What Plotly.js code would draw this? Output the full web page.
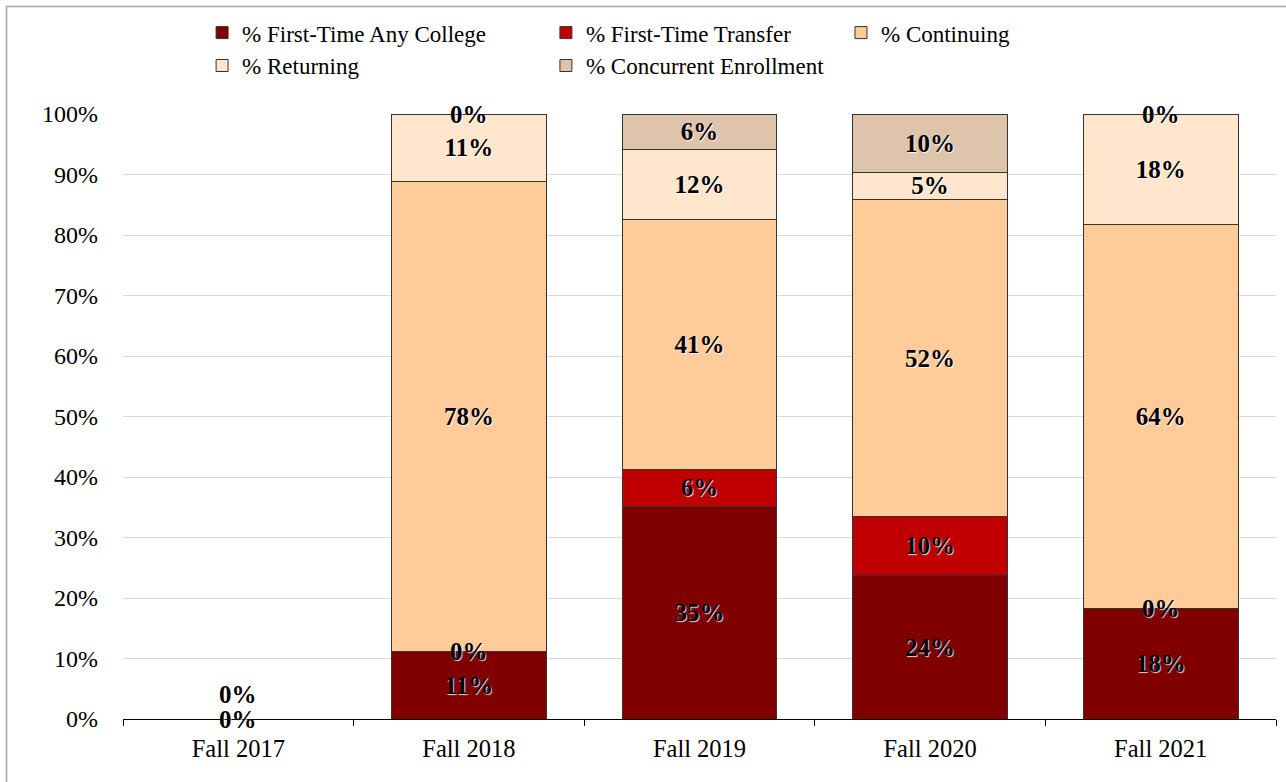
<!DOCTYPE html>
<html>
<head>
<meta charset="utf-8">
<script src="https://cdn.plot.ly/plotly-3.0.1.min.js"></script>
<style>html,body{margin:0;padding:0;background:#fff;}#chart{width:1286px;height:782px;}</style>
</head>
<body>
<div id="chart"></div>
<script>
const categories = ['Fall 2017', 'Fall 2018', 'Fall 2019', 'Fall 2020', 'Fall 2021'];
const seriesNames = ['% First-Time Any College', '% First-Time Transfer', '% Continuing', '% Returning', '% Concurrent Enrollment'];
const firstTimeAny = [0, 0.111, 0.352, 0.238, 0.182];
const firstTimeTransfer = [0, 0, 0.060, 0.096, 0];
const continuing = [0, 0.778, 0.413, 0.524, 0.636];
const returning = [0, 0.111, 0.117, 0.046, 0.182];
const concurrent = [0, 0, 0.058, 0.096, 0];
const yTickVals = [0, 0.1, 0.2, 0.3, 0.4, 0.5, 0.6, 0.7, 0.8, 0.9, 1.0];

const seriesValues = [firstTimeAny, firstTimeTransfer, continuing, returning, concurrent];
const colors = ['#800000', '#C00000', '#FFCB99', '#FFE6CD', '#DEC4AB'];
const legendIds = ['legend', 'legend2', 'legend3', 'legend', 'legend2'];

const SERIF = 'Liberation Serif';
const halo = '1px 1px 1px rgba(255,255,255,0.85)';
const labelFont = () => ({family: SERIF, size: 25, color: '#000000', weight: 'bold', shadow: halo});

const traces = seriesValues.map((vals, i) => ({
  type: 'bar',
  name: seriesNames[i],
  x: categories,
  y: vals,
  legend: legendIds[i],
  legendgroup: 'g' + i,
  marker: {color: colors[i], line: {color: '#333333', width: 1}},
  texttemplate: '%{y:.0%}',
  textposition: 'inside',
  insidetextanchor: 'middle',
  constraintext: 'none',
  textangle: 0,
  cliponaxis: false,
  textfont: labelFont(),
  insidetextfont: labelFont(),
  outsidetextfont: labelFont(),
  hoverinfo: 'x+y+name'
}));

// labels for zero-height segments (the library does not draw text inside empty bars)
const annotations = [];
const used = {};
categories.forEach((cat, j) => {
  let base = 0;
  seriesValues.forEach((vals) => {
    const v = vals[j];
    if (v === 0) {
      const key = cat + '|' + base.toFixed(4);
      used[key] = (used[key] || 0) + 1;
      if (used[key] <= 2) {
        annotations.push({
          x: cat, y: base, xref: 'x', yref: 'y',
          text: (v * 100).toFixed(0) + '%',
          showarrow: false, yshift: (used[key] - 1) * 25,
          font: labelFont()
        });
      }
    }
    base += v;
  });
});

const legendFont = {family: SERIF, size: 23, color: '#000000'};
const legendBase = {orientation: 'v', xanchor: 'left', y: 1.17, yanchor: 'top', traceorder: 'normal', tracegroupgap: 1, bgcolor: 'rgba(0,0,0,0)'};
const layout = {
  width: 1286, height: 782,
  barmode: 'stack',
  bargap: 0.328,
  paper_bgcolor: '#fff', plot_bgcolor: '#fff',
  margin: {l: 123, r: 10, t: 114, b: 63},
  font: {family: SERIF, size: 23, color: '#000000'},
  xaxis: {
    type: 'category',
    showline: true, linecolor: '#000', linewidth: 1,
    ticks: 'outside', tickson: 'boundaries', ticklen: 6, tickcolor: '#000', tickwidth: 1,
    ticklabelstandoff: 8,
    tickfont: {family: SERIF, size: 24.5, color: '#000000'},
    showgrid: false, zeroline: false
  },
  yaxis: {
    range: [0, 1], tickvals: yTickVals, tickformat: '.0%',
    showgrid: true, gridcolor: '#d9d9d9', gridwidth: 1,
    zeroline: false, showline: false, ticks: '',
    ticklabelstandoff: 24,
    tickfont: {family: SERIF, size: 24, color: '#000000'}
  },
  legend: Object.assign({}, legendBase, {x: 0.0686, font: Object.assign({}, legendFont)}),
  legend2: Object.assign({}, legendBase, {x: 0.3668, font: Object.assign({}, legendFont)}),
  legend3: Object.assign({}, legendBase, {x: 0.6227, font: Object.assign({}, legendFont)}),
  annotations: annotations,
  shapes: [{type: 'rect', xref: 'paper', yref: 'paper', x0: -0.101, x1: 1.1, y0: -0.2, y1: 1.1777, line: {color: '#a6a6a6', width: 1.5}, fillcolor: 'rgba(0,0,0,0)', layer: 'below'}],
  showlegend: true
};

Plotly.newPlot('chart', traces, layout, {displayModeBar: false, staticPlot: true});
</script>
</body>
</html>
